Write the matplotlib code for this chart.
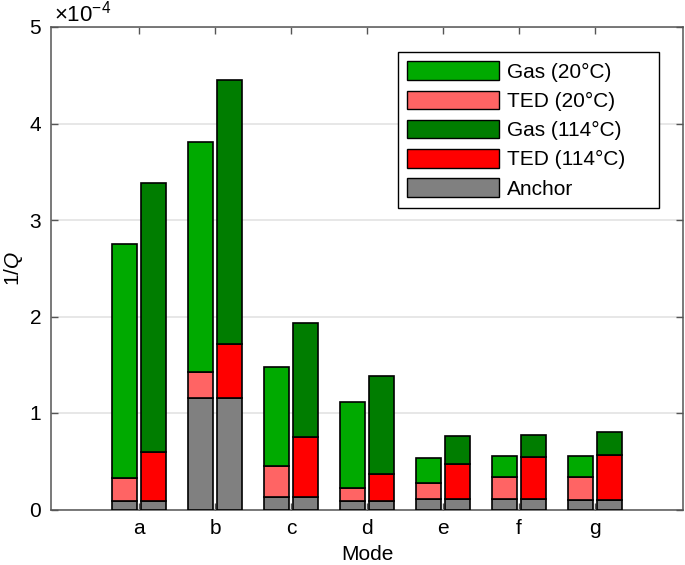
import numpy as np
import matplotlib
matplotlib.use('Agg')
import matplotlib.pyplot as plt
from matplotlib.patches import Patch

plt.rcParams['font.family'] = ['Liberation Sans', 'DejaVu Sans']
plt.rcParams['mathtext.fontset'] = 'custom'
plt.rcParams['mathtext.rm'] = 'Liberation Sans'
plt.rcParams['mathtext.it'] = 'Liberation Sans:italic'

# values in units of 1e-4
modes = ['a', 'b', 'c', 'd', 'e', 'f', 'g']
anchor = [0.085, 1.155, 0.13, 0.085, 0.105, 0.105, 0.10]
ted_20 = [0.245, 0.265, 0.32, 0.135, 0.165, 0.235, 0.24]
gas_20 = [2.42, 2.39, 1.03, 0.89, 0.26, 0.21, 0.21]
ted_114 = [0.515, 0.56, 0.62, 0.28, 0.365, 0.435, 0.46]
gas_114 = [2.78, 2.735, 1.185, 1.015, 0.295, 0.235, 0.24]

c_gas20 = '#00AA00'
c_ted20 = '#FF6464'
c_gas114 = '#007D00'
c_ted114 = '#FF0000'
c_anchor = '#808080'

fs = 15

fig = plt.figure(figsize=(6.85, 5.65), dpi=100)
ax = fig.add_axes([51/685, 1-509.5/565, (683-51)/685, (509.5-27)/565])

x = np.arange(len(modes))
w = 0.33
off = 0.195
kw = dict(width=w, edgecolor='black', linewidth=1.2, zorder=3)

a = np.array(anchor)
ax.bar(x-off, a, color=c_anchor, **kw)
ax.bar(x-off, ted_20, bottom=a, color=c_ted20, **kw)
ax.bar(x-off, gas_20, bottom=a+np.array(ted_20), color=c_gas20, **kw)
ax.bar(x+off, a, color=c_anchor, **kw)
ax.bar(x+off, ted_114, bottom=a, color=c_ted114, **kw)
ax.bar(x+off, gas_114, bottom=a+np.array(ted_114), color=c_gas114, **kw)

ax.set_xlim(-1.16, 7.16)
ax.set_ylim(0, 5)
ax.set_xticks(x)
ax.set_xticklabels(modes)
ax.set_yticks([0, 1, 2, 3, 4, 5])
ax.yaxis.grid(True, color='#e3e3e3', linewidth=1.2, zorder=0)
ax.set_axisbelow(True)
ax.tick_params(direction='in', length=5, width=1, color='#555555',
               labelsize=fs, top=True, right=True, pad=7)
for s in ax.spines.values():
    s.set_color('#555555')
    s.set_linewidth(1.1)

ax.set_xlabel('Mode', fontsize=fs, labelpad=5)
ax.set_ylabel('1/$\\mathit{Q}$', fontsize=fs, labelpad=3)
ax.text(0.005, 1.002, '$\\times10^{-4}$', transform=ax.transAxes,
        fontsize=fs+1, ha='left', va='bottom')

handles = [Patch(facecolor=c_gas20, edgecolor='black', label='Gas (20°C)'),
           Patch(facecolor=c_ted20, edgecolor='black', label='TED (20°C)'),
           Patch(facecolor=c_gas114, edgecolor='black', label='Gas (114°C)'),
           Patch(facecolor=c_ted114, edgecolor='black', label='TED (114°C)'),
           Patch(facecolor=c_anchor, edgecolor='black', label='Anchor')]
lx0 = (398-51)/632
lx1 = (659-51)/632
ly1 = (509.5-52)/482.5
leg = ax.legend(handles=handles, loc='upper left',
                bbox_to_anchor=(lx0, ly1-0.4, lx1-lx0, 0.4), mode='expand',
                fontsize=fs, fancybox=False, framealpha=1, edgecolor='black',
                handlelength=4.4, handleheight=1.0, labelspacing=0.42,
                handletextpad=0.4, borderpad=0.45, borderaxespad=0)
leg.get_frame().set_linewidth(1.0)

fig.savefig('out.png', dpi=100)
